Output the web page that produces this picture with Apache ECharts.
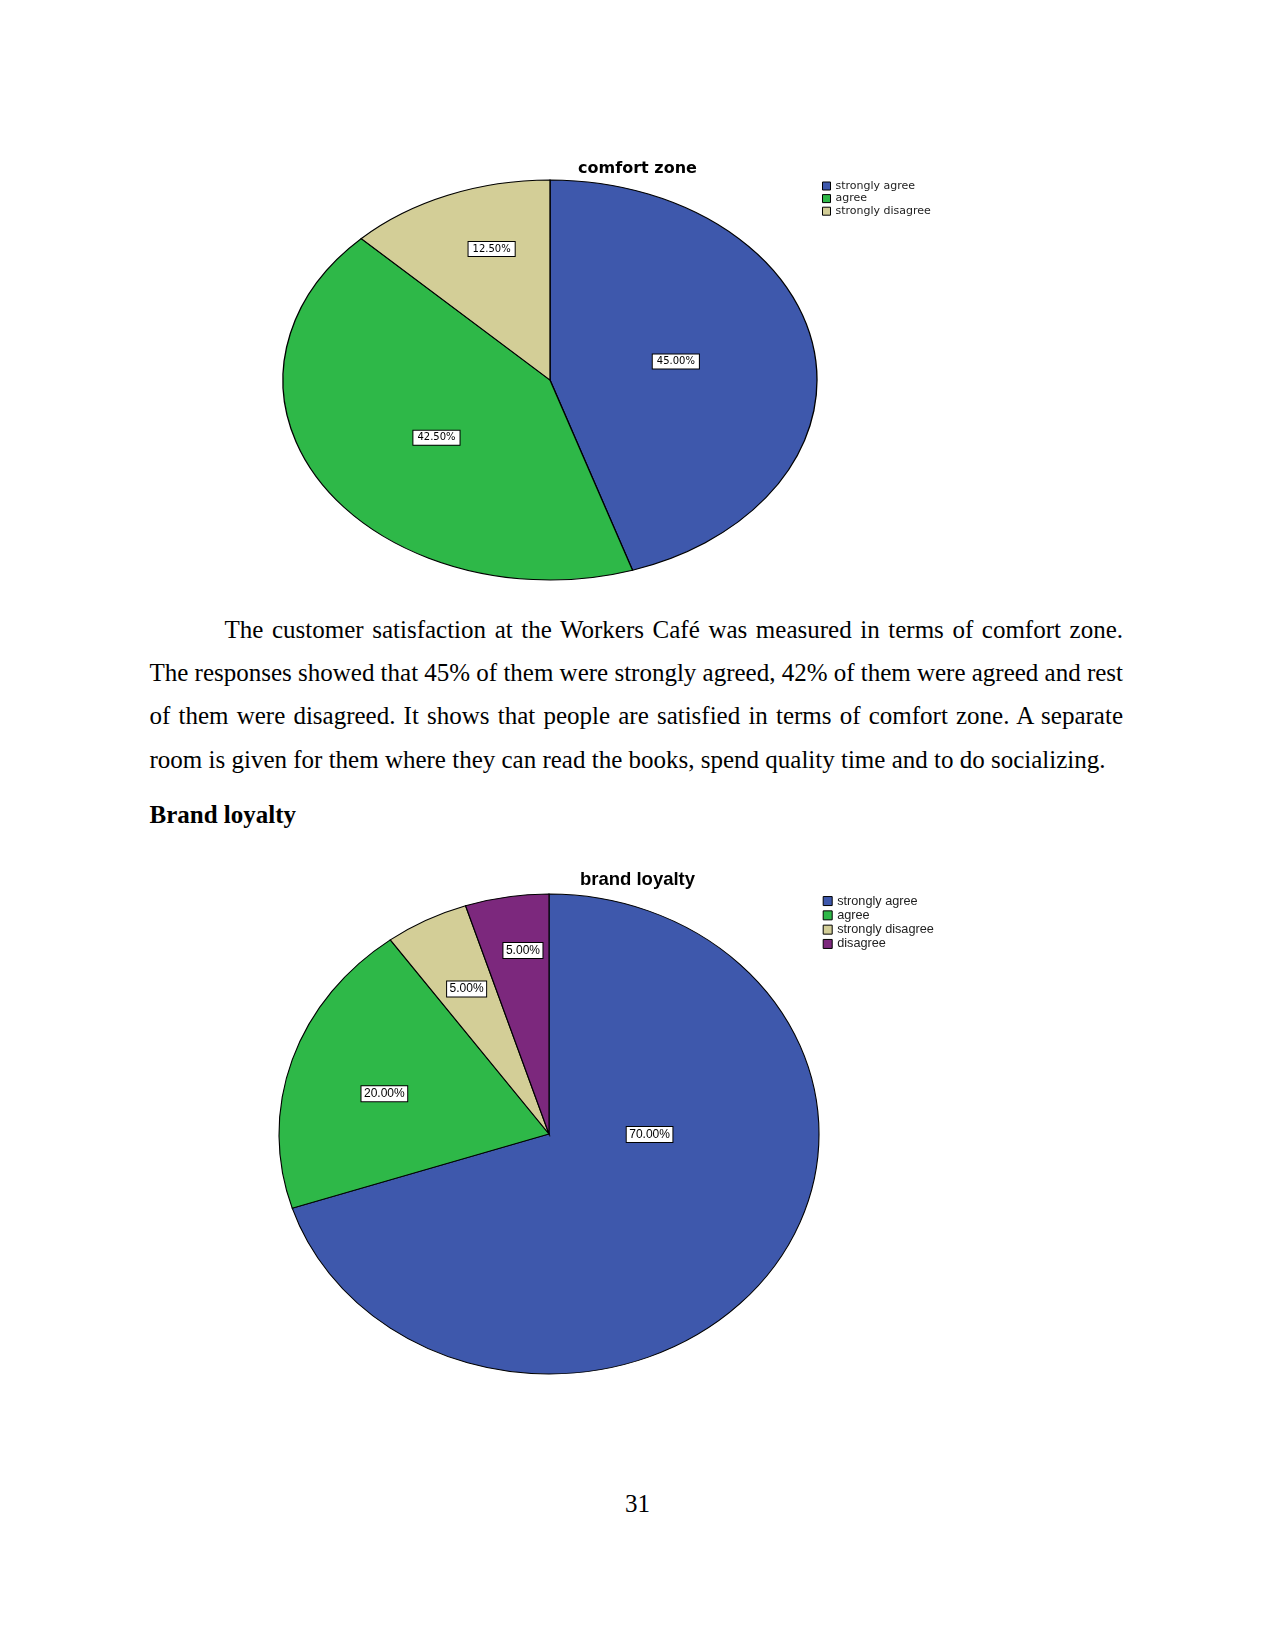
<!DOCTYPE html>
<html><head><meta charset="utf-8">
<script src="https://cdn.jsdelivr.net/npm/echarts@6/dist/echarts.min.js"></script>
<style>
html,body{margin:0;padding:0;background:#fff;}
body{width:1275px;height:1651px;position:relative;overflow:hidden;font-family:"Liberation Serif","Times New Roman",serif;color:#000;}
.chart{position:absolute;left:0;width:1275px;}
.line{position:absolute;font-size:25px;line-height:43.2px;white-space:nowrap;}
</style></head><body>
<div id="c1" class="chart" style="top:0;height:600px"></div>
<div class="line j" style="left:224.5px;top:608px" data-w="898.5"><span>The customer satisfaction at the Workers Café was measured in terms of comfort zone.</span></div>
<div class="line j" style="left:149.5px;top:651.2px" data-w="973.5"><span>The responses showed that 45% of them were strongly agreed, 42% of them were agreed and rest</span></div>
<div class="line j" style="left:149.5px;top:694.4px" data-w="973.5"><span>of them were disagreed. It shows that people are satisfied in terms of comfort zone. A separate</span></div>
<div class="line" style="left:149.5px;top:737.6px"><span>room is given for them where they can read the books, spend quality time and to do socializing.</span></div>
<div class="line" style="left:149.5px;top:793.4px;font-weight:bold">Brand loyalty</div>
<div id="c2" class="chart" style="top:840px;height:560px"></div>
<div class="line" style="left:0;width:1275px;text-align:center;top:1481.8px">31</div>
<script>
// ---- data ----
const comfortTitle = 'comfort zone';
const comfortCategories = ['strongly agree', 'agree', 'strongly disagree'];
const comfortValues = [45.0, 42.5, 12.5];

const loyaltyTitle = 'brand loyalty';
const loyaltyCategories = ['strongly agree', 'agree', 'strongly disagree', 'disagree'];
const loyaltyValues = [70.0, 20.0, 5.0, 5.0];

// ---- styles / layout ----
const categoryColors = {
  'strongly agree': '#3E58AC',
  'agree': '#2EB848',
  'strongly disagree': '#D3CE97',
  'disagree': '#7C287D'
};

const layout1 = {
  cx: 550, cy: 380, rx: 267, ry: 200,
  nudges: [[3, -4], [-3, 7], [8, -11]],
  labelFont: '10px "DejaVu Sans"', labelPad: [1, 4], labelLH: 12,
  titleFont: 'DejaVu Sans', titleSize: 16, titleTop: 159, titleLH: 20,
  legendLeft: 822, legendTop: 179.7, legendIcon: 8, legendFont: 'DejaVu Sans', legendSize: 11, legendLH: 12.6
};
const layout2 = {
  cx: 549, cy: 294, rx: 270, ry: 240,
  nudges: [[47, -34], [-4.5, 6], [-1, -3], [2, -26]],
  labelFont: '12px "Liberation Sans"', labelPad: [1, 2.5], labelLH: 13,
  titleFont: 'Liberation Sans', titleSize: 18.5, titleTop: 29, titleLH: 22,
  legendLeft: 822.7, legendTop: 53.9, legendIcon: 9, legendFont: 'Liberation Sans', legendSize: 12.7, legendLH: 14.3
};

function buildOption(title, cats, vals, L) {
  const total = vals.reduce((a, b) => a + b, 0);
  let cum = 0;
  const series = cats.map((name, i) => {
    const s = cum / total; cum += vals[i]; const e = cum / total;
    const color = categoryColors[name];
    return {
      type: 'custom', name: name, coordinateSystem: 'none',
      itemStyle: { color: color },
      data: [[vals[i], s, e]],
      renderItem: function (params, api) {
        const v = api.value(0), s0 = api.value(1), e0 = api.value(2);
        const sa = -Math.PI / 2 + s0 * 2 * Math.PI;
        const ea = -Math.PI / 2 + e0 * 2 * Math.PI;
        const half = (e0 - s0) * Math.PI;
        const k = (2 / 3) * Math.sin(half) / half;
        const mid = (sa + ea) / 2;
        const lx = L.cx + Math.cos(mid) * L.rx * k + L.nudges[i][0];
        const ly = L.cy + Math.sin(mid) * L.ry * k + L.nudges[i][1];
        return {
          type: 'group',
          children: [
            {
              type: 'sector', x: L.cx, y: L.cy, scaleX: L.rx / L.ry,
              shape: { cx: 0, cy: 0, r: L.ry, r0: 0, startAngle: sa, endAngle: ea, clockwise: true },
              style: { fill: color, stroke: '#000', lineWidth: 1, strokeNoScale: true }
            },
            {
              type: 'text', x: lx, y: ly, z2: 10,
              style: {
                text: (v / total * 100).toFixed(2) + '%',
                font: L.labelFont, fill: '#000', align: 'center', verticalAlign: 'middle',
                lineHeight: L.labelLH,
                backgroundColor: '#fff', borderColor: '#000', borderWidth: 1, padding: L.labelPad
              }
            }
          ]
        };
      }
    };
  });
  return {
    animation: false,
    title: {
      text: title, left: 'center', top: L.titleTop, padding: 0,
      textStyle: { fontFamily: L.titleFont, fontWeight: 'bold', fontSize: L.titleSize, color: '#000', lineHeight: L.titleLH }
    },
    legend: {
      orient: 'vertical', left: L.legendLeft, top: L.legendTop, padding: 0,
      itemWidth: L.legendIcon, itemHeight: L.legendIcon, itemGap: 0, icon: 'rect',
      selectedMode: false, data: cats,
      itemStyle: { borderColor: '#000', borderWidth: 1 },
      textStyle: { fontFamily: L.legendFont, fontSize: L.legendSize, color: '#222', lineHeight: L.legendLH, padding: 0 }
    },
    series: series
  };
}

const chart1 = echarts.init(document.getElementById('c1'), null, { renderer: 'canvas' });
chart1.setOption(buildOption(comfortTitle, comfortCategories, comfortValues, layout1));
const chart2 = echarts.init(document.getElementById('c2'), null, { renderer: 'canvas' });
chart2.setOption(buildOption(loyaltyTitle, loyaltyCategories, loyaltyValues, layout2));

// justify text lines
document.querySelectorAll('.j').forEach(el => {
  const span = el.querySelector('span');
  const target = parseFloat(el.dataset.w);
  const w = span.getBoundingClientRect().width;
  const spaces = (span.textContent.match(/ /g) || []).length;
  if (spaces > 0) el.style.wordSpacing = ((target - w) / spaces) + 'px';
});
</script>
</body></html>
